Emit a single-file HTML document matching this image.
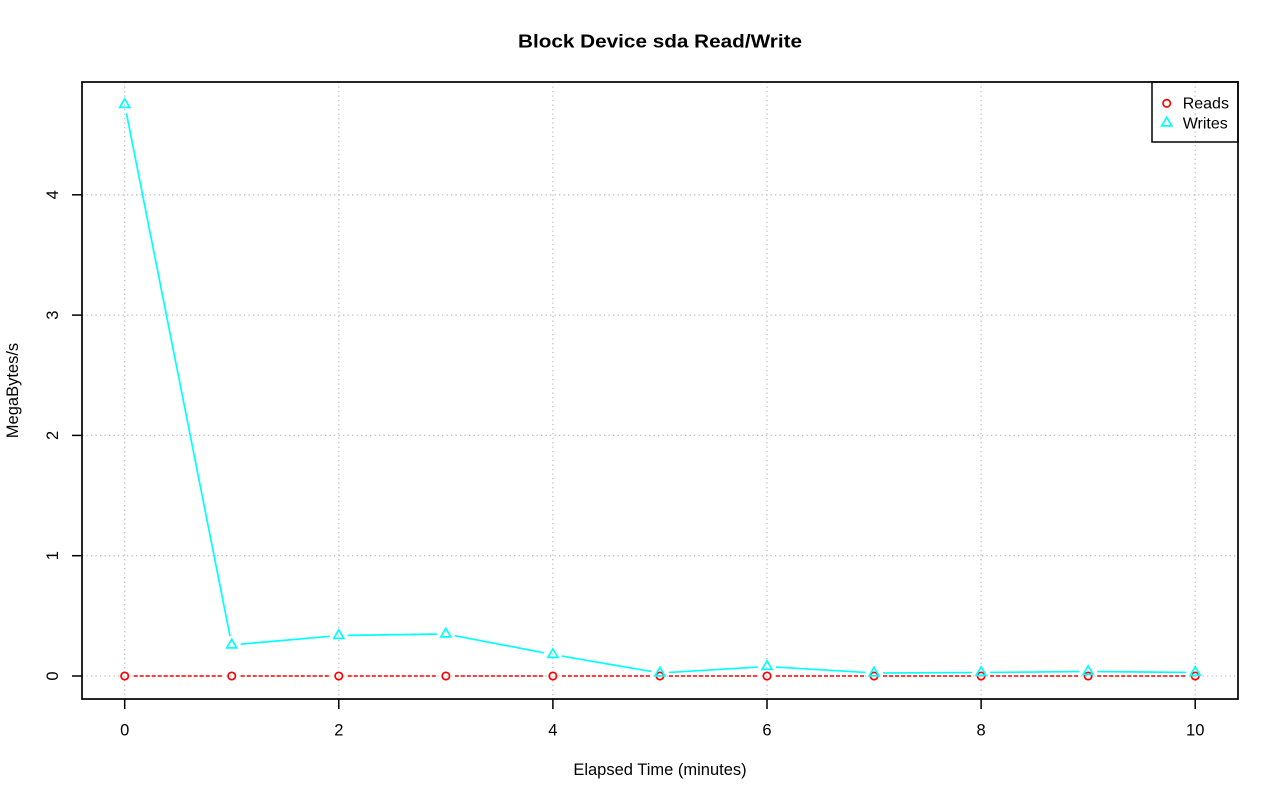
<!DOCTYPE html>
<html>
<head>
<meta charset="utf-8">
<style>
html,body{margin:0;padding:0;background:#fff;}
svg{display:block;}
text{font-family:"Liberation Sans",Arial,sans-serif;fill:#000;}
</style>
</head>
<body>
<svg width="1280" height="801" viewBox="0 0 1280 801" xmlns="http://www.w3.org/2000/svg">
<rect x="0" y="0" width="1280" height="801" fill="#fff"/>

<!-- grid -->
<g stroke="#c0c0c0" stroke-width="1.3" stroke-dasharray="1.3,3.2" fill="none">
  <line x1="124.7" y1="82" x2="124.7" y2="699"/>
  <line x1="338.8" y1="82" x2="338.8" y2="699"/>
  <line x1="552.9" y1="82" x2="552.9" y2="699"/>
  <line x1="767.0" y1="82" x2="767.0" y2="699"/>
  <line x1="981.1" y1="82" x2="981.1" y2="699"/>
  <line x1="1195.2" y1="82" x2="1195.2" y2="699"/>
  <line x1="82" y1="676" x2="1238" y2="676"/>
  <line x1="82" y1="555.7" x2="1238" y2="555.7"/>
  <line x1="82" y1="435.4" x2="1238" y2="435.4"/>
  <line x1="82" y1="315.1" x2="1238" y2="315.1"/>
  <line x1="82" y1="194.8" x2="1238" y2="194.8"/>
</g>

<!-- Reads dashed line segments -->
<g stroke="#ff0000" stroke-width="1.5" stroke-dasharray="4,2" fill="none">
  <line x1="133.7" y1="676" x2="222.75" y2="676"/>
  <line x1="240.75" y1="676" x2="329.8" y2="676"/>
  <line x1="347.8" y1="676" x2="436.85" y2="676"/>
  <line x1="454.85" y1="676" x2="543.9" y2="676"/>
  <line x1="561.9" y1="676" x2="650.95" y2="676"/>
  <line x1="668.95" y1="676" x2="758.0" y2="676"/>
  <line x1="776.0" y1="676" x2="865.05" y2="676"/>
  <line x1="883.05" y1="676" x2="972.1" y2="676"/>
  <line x1="990.1" y1="676" x2="1079.15" y2="676"/>
  <line x1="1097.15" y1="676" x2="1186.2" y2="676"/>
</g>

<!-- Writes line segments -->
<g stroke="#00ffff" stroke-width="1.7" fill="none">
  <line x1="126.45" y1="113.33" x2="230.0" y2="636.17"/>
  <line x1="240.71" y1="644.2" x2="329.84" y2="636.3"/>
  <line x1="347.8" y1="635.37" x2="436.85" y2="634.13"/>
  <line x1="454.69" y1="635.69" x2="544.06" y2="652.81"/>
  <line x1="561.77" y1="656.03" x2="651.08" y2="671.47"/>
  <line x1="668.93" y1="672.45" x2="758.02" y2="667.05"/>
  <line x1="775.98" y1="667.05" x2="865.07" y2="672.45"/>
  <line x1="883.05" y1="672.96" x2="972.1" y2="672.54"/>
  <line x1="990.1" y1="672.42" x2="1079.15" y2="671.58"/>
  <line x1="1097.15" y1="671.58" x2="1186.2" y2="672.42"/>
</g>

<!-- Reads points -->
<g stroke="#ff0000" stroke-width="1.7" fill="none">
  <circle cx="124.7" cy="676" r="3.7"/>
  <circle cx="231.75" cy="676" r="3.7"/>
  <circle cx="338.8" cy="676" r="3.7"/>
  <circle cx="445.85" cy="676" r="3.7"/>
  <circle cx="552.9" cy="676" r="3.7"/>
  <circle cx="659.95" cy="676" r="3.7"/>
  <circle cx="767.0" cy="676" r="3.7"/>
  <circle cx="874.05" cy="676" r="3.7"/>
  <circle cx="981.1" cy="676" r="3.7"/>
  <circle cx="1088.15" cy="676" r="3.7"/>
  <circle cx="1195.2" cy="676" r="3.7"/>
</g>

<!-- Writes points (triangles) -->
<g stroke="#00ffff" stroke-width="1.7" fill="none" stroke-linejoin="miter">
  <polygon points="124.7,98.8 119.7,107.4 129.7,107.4"/>
  <polygon points="231.75,639.3 226.75,647.9 236.75,647.9"/>
  <polygon points="338.8,629.8 333.8,638.4 343.8,638.4"/>
  <polygon points="445.85,628.3 440.85,636.9 450.85,636.9"/>
  <polygon points="552.9,648.8 547.9,657.4 557.9,657.4"/>
  <polygon points="659.95,667.3 654.95,675.9 664.95,675.9"/>
  <polygon points="767.0,660.8 762.0,669.4 772.0,669.4"/>
  <polygon points="874.05,667.3 869.05,675.9 879.05,675.9"/>
  <polygon points="981.1,666.8 976.1,675.4 986.1,675.4"/>
  <polygon points="1088.15,665.8 1083.15,674.4 1093.15,674.4"/>
  <polygon points="1195.2,666.8 1190.2,675.4 1200.2,675.4"/>
</g>

<!-- plot box -->
<rect x="82" y="82" width="1156" height="617" fill="none" stroke="#000" stroke-width="1.7"/>

<!-- ticks -->
<g stroke="#000" stroke-width="1.5">
  <line x1="124.7" y1="699" x2="124.7" y2="709"/>
  <line x1="338.8" y1="699" x2="338.8" y2="709"/>
  <line x1="552.9" y1="699" x2="552.9" y2="709"/>
  <line x1="767.0" y1="699" x2="767.0" y2="709"/>
  <line x1="981.1" y1="699" x2="981.1" y2="709"/>
  <line x1="1195.2" y1="699" x2="1195.2" y2="709"/>
  <line x1="82" y1="676" x2="72" y2="676"/>
  <line x1="82" y1="555.7" x2="72" y2="555.7"/>
  <line x1="82" y1="435.4" x2="72" y2="435.4"/>
  <line x1="82" y1="315.1" x2="72" y2="315.1"/>
  <line x1="82" y1="194.8" x2="72" y2="194.8"/>
</g>

<!-- x tick labels -->
<g font-size="16.5" text-anchor="middle">
  <text x="124.7" y="735.5">0</text>
  <text x="338.8" y="735.5">2</text>
  <text x="552.9" y="735.5">4</text>
  <text x="767.0" y="735.5">6</text>
  <text x="981.1" y="735.5">8</text>
  <text x="1195.2" y="735.5">10</text>
</g>

<!-- y tick labels (rotated) -->
<g font-size="16.5" text-anchor="middle">
  <text transform="translate(58,676) rotate(-90)">0</text>
  <text transform="translate(58,555.7) rotate(-90)">1</text>
  <text transform="translate(58,435.4) rotate(-90)">2</text>
  <text transform="translate(58,315.1) rotate(-90)">3</text>
  <text transform="translate(58,194.8) rotate(-90)">4</text>
</g>

<!-- axis labels -->
<text x="660" y="775" font-size="16.5" text-anchor="middle">Elapsed Time (minutes)</text>
<text transform="translate(18,390.5) rotate(-90)" font-size="16.5" text-anchor="middle">MegaBytes/s</text>

<!-- title -->
<text x="518" y="47.5" font-size="18" font-weight="bold" textLength="284" lengthAdjust="spacingAndGlyphs">Block Device sda Read/Write</text>

<!-- legend -->
<rect x="1152" y="82" width="86" height="60" fill="none" stroke="#000" stroke-width="1.5"/>
<circle cx="1166.7" cy="103.3" r="3.7" fill="none" stroke="#ff0000" stroke-width="1.7"/>
<polygon points="1166.7,117.3 1161.7,125.9 1171.7,125.9" fill="none" stroke="#00ffff" stroke-width="1.7"/>
<text x="1182.7" y="108.3" font-size="16">Reads</text>
<text x="1182.7" y="128.3" font-size="16">Writes</text>
</svg>
</body>
</html>
